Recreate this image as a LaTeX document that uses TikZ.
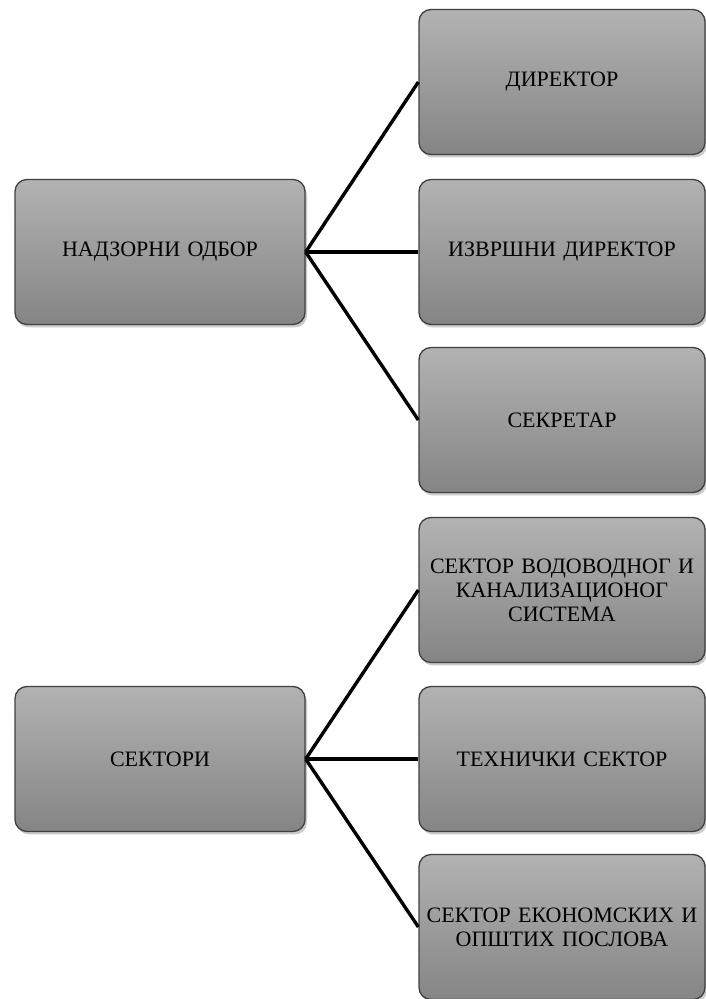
\documentclass[tikz,border=0pt]{standalone}
\usepackage{fontspec}
\setmainfont{Liberation Serif}
\usetikzlibrary{shadows}
\begin{document}
\begin{tikzpicture}[x=1pt,y=1pt,
  orgbox/.style={rectangle, rounded corners=12pt, draw=black!75, line width=1.3pt,
    top color=black!30, bottom color=black!48, text=black,
    minimum height=145pt, align=center, inner sep=1pt,
    font=\fontsize{22}{24}\selectfont,
    drop shadow={shadow xshift=2pt, shadow yshift=-3pt, opacity=0.35, fill=black!60}},
  leftbox/.style={orgbox, minimum width=290pt, text width=286pt},
  rightbox/.style={orgbox, minimum width=286pt, text width=284pt},
  link/.style={line width=3.4pt, draw=black}]
\useasboundingbox (0,0) rectangle (706,999);
\node[leftbox] (nadz) at (160,747) {НАДЗОРНИ ОДБОР};
\node[leftbox] (sekt) at (160,240) {СЕКТОРИ};
\node[rightbox] (dir) at (562,917) {ДИРЕКТОР};
\node[rightbox] (izv) at (562,747) {ИЗВРШНИ ДИРЕКТОР};
\node[rightbox] (sek) at (562,579) {СЕКРЕТАР};
\node[rightbox] (vod) at (562,409) {СЕКТОР ВОДОВОДНОГ И\\КАНАЛИЗАЦИОНОГ\\СИСТЕМА};
\node[rightbox] (teh) at (562,240) {ТЕХНИЧКИ СЕКТОР};
\node[rightbox] (eko) at (562,72) {СЕКТОР ЕКОНОМСКИХ И\\ОПШТИХ ПОСЛОВА};
\draw[link] (nadz.east) -- (dir.west);
\draw[link] (nadz.east) -- (izv.west);
\draw[link] (nadz.east) -- (sek.west);
\draw[link] (sekt.east) -- (vod.west);
\draw[link] (sekt.east) -- (teh.west);
\draw[link] (sekt.east) -- (eko.west);
\end{tikzpicture}
\end{document}
